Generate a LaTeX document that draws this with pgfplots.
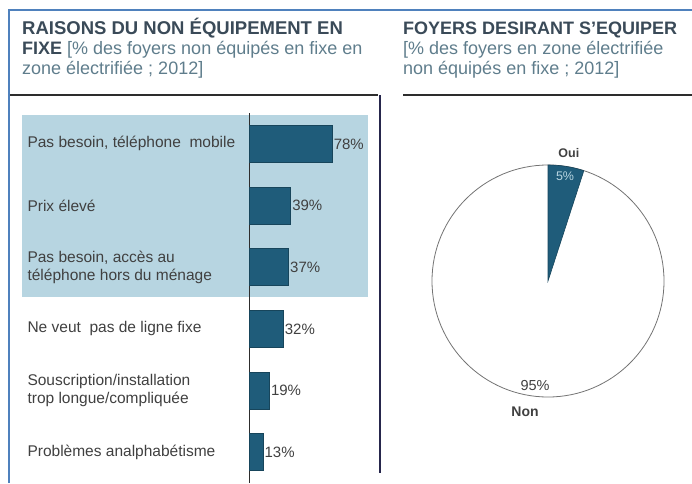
\documentclass[border=0pt]{standalone}
\usepackage{pgfplots}
\pgfplotsset{compat=1.18}
\usepackage{pgfplotstable}
\usepackage{fontspec}
\setmainfont{Liberation Sans}
\definecolor{titlecol}{RGB}{58,74,88}
\definecolor{subcol}{RGB}{95,125,140}
\definecolor{framecol}{RGB}{79,129,189}
\definecolor{bandcol}{RGB}{183,213,225}
\definecolor{barcol}{RGB}{31,92,122}
\definecolor{textcol}{RGB}{64,64,64}
\definecolor{linecol}{RGB}{45,45,45}

\pgfplotstableread{
idx value
0 78
1 39
2 37
3 32
4 19
5 13
}\bartable
\pgfplotstableread{
label value
Oui 5
Non 95
}\pietable

\begin{document}
\begin{tikzpicture}[x=1pt,y=1pt]
\useasboundingbox (0,0) rectangle (692,483);
% frame
\draw[framecol, line width=2pt] (9,0) -- (9,473) -- (692,473);
% titles
\node[anchor=base west, inner sep=0, text=titlecol, font=\fontsize{18.5}{20}\selectfont\bfseries] at (22,448) {RAISONS DU NON ÉQUIPEMENT EN};
\node[anchor=base west, inner sep=0, text=subcol, font=\fontsize{18}{20}\selectfont] at (22,428) {\textcolor{titlecol}{\bfseries FIXE} [\% des foyers non équipés en fixe en};
\node[anchor=base west, inner sep=0, text=subcol, font=\fontsize{18}{20}\selectfont] at (22,408) {zone électrifiée ; 2012]};
\node[anchor=base west, inner sep=0, text=titlecol, font=\fontsize{18}{20}\selectfont\bfseries] at (403,448) {FOYERS DESIRANT S\symbol{39}EQUIPER};
\node[anchor=base west, inner sep=0, text=subcol, font=\fontsize{18}{20}\selectfont] at (403,428) {[\% des foyers en zone électrifiée};
\node[anchor=base west, inner sep=0, text=subcol, font=\fontsize{18}{20}\selectfont] at (403,408) {non équipés en fixe ; 2012]};
\draw[linecol, line width=1.5pt] (10,388) -- (378,388);
\draw[linecol, line width=1.5pt] (403,388) -- (692,388);
\draw[linecol!85!blue, line width=1.2pt] (380,388) -- (380,10);
% band
\fill[bandcol] (22,186) rectangle (368,368);

\begin{axis}[
  at={(249pt,0pt)}, anchor=south west,
  scale only axis, width=106.4pt, height=370pt,
  xbar, bar width=37pt,
  xmin=0, xmax=100, ymin=-0.5, ymax=5.5,
  y dir=reverse,
  axis x line=none, axis y line*=left,
  y axis line style={draw=linecol, line width=1pt},
  ytick={0,...,5}, major tick length=0pt,
  yticklabels={{Pas besoin, téléphone\ \ mobile},{Prix élevé},{Pas besoin, accès au\\téléphone hors du ménage},{Ne veut\ \ pas de ligne fixe},{Souscription/installation\\trop longue/compliquée},{Problèmes analphabétisme}},
  yticklabel style={align=left, anchor=west, xshift=-225pt, text=textcol, font=\fontsize{15.5}{17.5}\selectfont},
  nodes near coords={\pgfmathprintnumber{\pgfplotspointmeta}\%},
  nodes near coords style={anchor=west, inner sep=1.5pt, text=textcol, font=\fontsize{15}{17}\selectfont},
  /pgf/number format/assume math mode=true,
  clip=false,
]
\addplot[fill=barcol, draw=barcol!75!black, line width=0.6pt] table[x=value, y=idx] {\bartable};
\end{axis}

\pgfplotstablegetelem{0}{value}\of\pietable
\pgfmathsetmacro\ouiangle{90-3.6*\pgfplotsretval}
\begin{axis}[
  at={(548pt,202pt)}, anchor=center,
  scale only axis, width=232pt, height=232pt,
  xmin=-1, xmax=1, ymin=-1, ymax=1, enlargelimits=false,
  hide axis, clip=false,
]
\draw[gray!90!black, line width=0.8pt] (axis cs:0,0) circle[radius=116pt];
\fill[barcol, draw=barcol!75!black, line width=0.6pt] (axis cs:0,0) -- (axis cs:0,1) arc[start angle=90, end angle=\ouiangle, radius=116pt] -- cycle;
\node[font=\fontsize{12.5}{14}\selectfont\bfseries, text=textcol] at (axis cs:0.18,1.10) {Oui};
\node[font=\fontsize{12.5}{14}\selectfont, text=bandcol] at (axis cs:0.147,0.905) {5\%};
\node[font=\fontsize{14.5}{16}\selectfont, text=textcol] at (axis cs:-0.112,-0.905) {95\%};
\node[font=\fontsize{14}{16}\selectfont\bfseries, text=textcol] at (axis cs:-0.198,-1.13) {Non};
\end{axis}
\end{tikzpicture}
\end{document}
